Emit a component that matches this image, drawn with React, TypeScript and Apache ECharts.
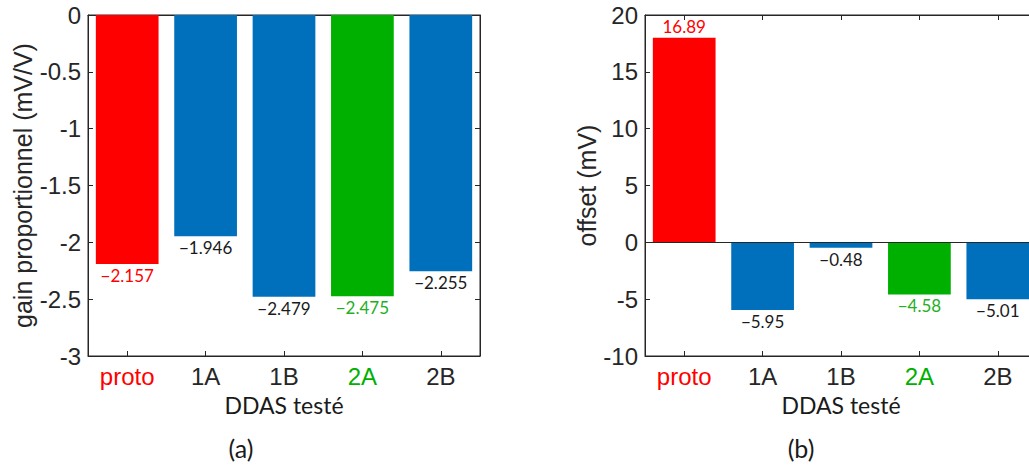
import React, { useEffect, useRef } from "react";
import * as echarts from "echarts";

const categories = ["proto", "1A", "1B", "2A", "2B"];
const gainValues = [-2.19, -1.946, -2.479, -2.475, -2.255];
const gainLabels = ["−2.157", "−1.946", "−2.479", "−2.475", "−2.255"];
const offsetValues = [18, -5.95, -0.48, -4.58, -5.01];
const offsetLabels = ["16.89", "−5.95", "−0.48", "−4.58", "−5.01"];
const barColors = ["#FF0000", "#0070BC", "#0070BC", "#00B000", "#0070BC"];
const textColors = ["#FF0000", "#1A1A1A", "#1A1A1A", "#22B022", "#1A1A1A"];
const catColors = ["#FF0000", "#262626", "#262626", "#00B000", "#262626"];
const gainAxis = { min: -3, max: 0, interval: 0.5 };
const offsetAxis = { min: -10, max: 20, interval: 5 };

const AX = "#262626";
const SANS = "Liberation Sans";
const LABF = "Lato";

function catAxis(gridIndex: number, position: "top" | "bottom", withLabels: boolean) {
  return {
    type: "category",
    gridIndex,
    position,
    data: categories,
    axisLine: { onZero: false, lineStyle: { color: AX, width: 1 } },
    axisTick: { show: true, inside: true, alignWithLabel: true, length: 5, lineStyle: { color: AX } },
    axisLabel: withLabels
      ? {
          show: true,
          margin: 8,
          fontFamily: SANS,
          fontSize: 24,
          color: (v: string) => catColors[categories.indexOf(v)] || AX,
        }
      : { show: false },
    name: withLabels ? "DDAS testé" : "",
    nameLocation: "middle",
    nameGap: 37,
    nameTextStyle: { fontFamily: LABF, fontSize: 23, color: "#1A1A1A" },
  };
}

function valAxis(gridIndex: number, position: "left" | "right", rng: any, name: string, gap: number) {
  const left = position === "left";
  return {
    type: "value",
    gridIndex,
    position,
    min: rng.min,
    max: rng.max,
    interval: rng.interval,
    splitLine: { show: false },
    axisLine: { show: true, lineStyle: { color: AX, width: 1 } },
    axisTick: { show: true, inside: true, length: 5, lineStyle: { color: AX } },
    axisLabel: left
      ? { show: true, margin: 7, fontFamily: SANS, fontSize: 24, color: AX }
      : { show: false },
    name: left ? name : "",
    nameLocation: "middle",
    nameRotate: 90,
    nameGap: gap,
    nameTextStyle: { fontFamily: SANS, fontSize: 25, color: AX },
  };
}

function barData(values: number[], labels: string[]) {
  return values.map((v, i) => ({
    value: v,
    itemStyle: { color: barColors[i] },
    label: {
      show: true,
      position: v >= 0 ? "top" : "bottom",
      distance: 3,
      color: textColors[i],
      fontFamily: LABF,
      fontSize: 17,
      formatter: () => labels[i],
    },
  }));
}

export default function App() {
  const ref = useRef<HTMLDivElement>(null);
  useEffect(() => {
    if (!ref.current) return;
    const chart = echarts.init(ref.current, null, { renderer: "svg" });
    chart.setOption({
      animation: false,
      backgroundColor: "#ffffff",
      grid: [
        { left: 88, top: 15, width: 392, height: 341, show: true, borderColor: AX, borderWidth: 1, backgroundColor: "transparent" },
        { left: 645, top: 15, width: 392, height: 341, show: true, borderColor: AX, borderWidth: 1, backgroundColor: "transparent" },
      ],
      xAxis: [catAxis(0, "bottom", true), catAxis(0, "top", false), catAxis(1, "bottom", true), catAxis(1, "top", false)],
      yAxis: [
        valAxis(0, "left", gainAxis, "gain proportionnel (mV/V)", 47),
        valAxis(0, "right", gainAxis, "", 0),
        valAxis(1, "left", offsetAxis, "offset (mV)", 42),
        valAxis(1, "right", offsetAxis, "", 0),
      ],
      series: [
        {
          type: "bar",
          xAxisIndex: 0,
          yAxisIndex: 0,
          barWidth: "80%",
          data: barData(gainValues, gainLabels),
        },
        {
          type: "bar",
          xAxisIndex: 2,
          yAxisIndex: 2,
          barWidth: "80%",
          data: barData(offsetValues, offsetLabels),
          markLine: {
            silent: true,
            symbol: "none",
            label: { show: false },
            lineStyle: { color: AX, width: 1, type: "solid" },
            data: [{ yAxis: 0 }],
          },
        },
      ],
      graphic: [
        { type: "text", x: 241, y: 448, style: { text: "(a)", fontFamily: LABF, fontSize: 25, fill: "#1A1A1A", align: "center", verticalAlign: "middle" } },
        { type: "text", x: 801, y: 448, style: { text: "(b)", fontFamily: LABF, fontSize: 25, fill: "#1A1A1A", align: "center", verticalAlign: "middle" } },
      ],
    });
    return () => chart.dispose();
  }, []);
  return (
    <div style={{ position: "fixed", left: 0, top: 0, width: 1029, height: 465, overflow: "hidden", background: "#fff" }}>
      <div ref={ref} style={{ width: 1045, height: 465 }} />
    </div>
  );
}
